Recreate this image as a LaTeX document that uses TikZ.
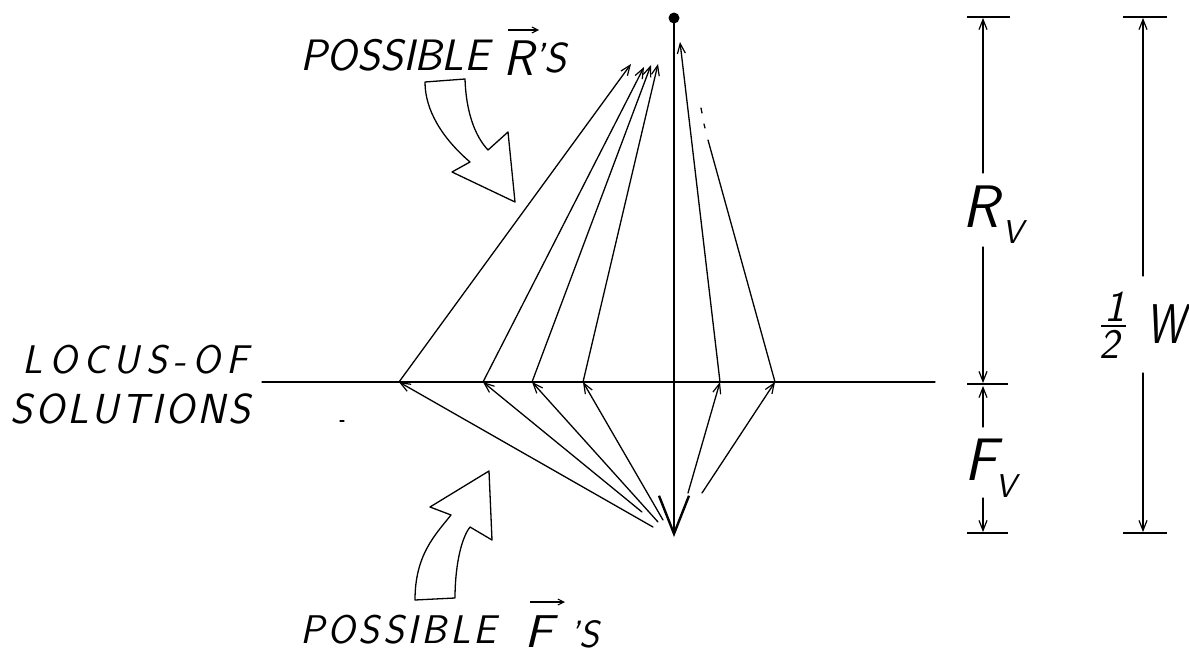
\documentclass[tikz,border=0pt]{standalone}
\usepackage{fontspec}
\usetikzlibrary{arrows.meta}
\tikzset{
  lbl/.style={font=\sffamily\itshape, inner sep=0pt, anchor=base west},
  ln/.style={line width=1.3pt, line cap=round},
  barb/.style={-{Straight Barb[length=10pt,width=8pt,line width=1.2pt]}},
  blockarrow/.style={draw, line width=1.3pt, fill=white, line join=round},
  tick/.style={line width=1.4pt},
}
\newcommand{\fs}[1]{\fontsize{#1}{#1}\selectfont}
\begin{document}
\begin{tikzpicture}[x=1pt,y=-1pt]
\useasboundingbox (0,0) rectangle (1189,656);
% key points
\coordinate (T) at (674,18);
\coordinate (B) at (674,537);
\coordinate (HL) at (262,382);
\coordinate (HR) at (935,382);
\coordinate (h1) at (399,382);
\coordinate (h2) at (483,382);
\coordinate (h3) at (532,382);
\coordinate (h4) at (583,382);
\coordinate (h5) at (720,382);
\coordinate (h6) at (775,382);
\coordinate (r1) at (631,64);
\coordinate (r2) at (644,67);
\coordinate (r3) at (651,65);
\coordinate (r4) at (658,64);
\coordinate (r5) at (680,42);
\coordinate (r6) at (708,140);
\coordinate (f1) at (653,527);
\coordinate (f2) at (642,512);
\coordinate (f3) at (658,522);
\coordinate (f4) at (663,520);
\coordinate (f5) at (688,493);
\coordinate (f6) at (702,493);
% locus line
\draw[ln] (HL) -- (HR);
% main vertical vector
\draw[line width=2.8pt, -{Straight Barb[length=38pt,width=30pt,line width=2.4pt]}] (T) -- (B);
\node[circle, fill, inner sep=0pt, minimum size=11pt] (dot) at (T) {};
% possible R's
\draw[ln, barb] (h1) -- (r1);
\draw[ln, barb] (h2) -- (r2);
\draw[ln, barb] (h3) -- (r3);
\draw[ln, barb] (h4) -- (r4);
\draw[ln, barb] (h5) -- (r5);
\draw[ln] (h6) -- (r6);
\draw[ln] (705,128) -- (704,124);
\draw[ln] (702,113) -- (701,108);
% possible F's
\draw[ln, barb] (f1) -- (h1);
\draw[ln, barb] (f2) -- (h2);
\draw[ln, barb] (f3) -- (h3);
\draw[ln, barb] (f4) -- (h4);
\draw[ln, barb] (f5) -- (h5);
\draw[ln, barb] (f6) -- (h6);
% block arrows
\draw[blockarrow] (425,82) -- (465,79) .. controls (466,110) and (474,135) .. (488,150)
  -- (508,132) -- (515,202) -- (452,172) -- (470,162)
  .. controls (442,138) and (425,110) .. cycle;
\draw[blockarrow] (415,600) -- (455,598) .. controls (455,570) and (460,540) .. (470,527)
  -- (492,540) -- (489,471) -- (430,507) -- (451,515)
  .. controls (435,535) and (415,555) .. cycle;
% dimension lines
\coordinate (rvTop) at (983,18);
\coordinate (rvMid) at (983,383);
\coordinate (rvBot) at (983,532);
\coordinate (wTop) at (1143,18);
\coordinate (wBot) at (1143,532);
\draw[tick] (967,17) -- (1010,17);
\draw[tick] (967,384) -- (1008,384);
\draw[tick] (967,533) -- (1008,533);
\draw[tick] (1123,17) -- (1167,17);
\draw[tick] (1123,533) -- (1167,533);
\draw[ln, barb] (983,173) -- (rvTop);
\draw[ln, barb] (983,247) -- (rvMid);
\draw[ln, barb] (983,427) -- (983,386);
\draw[ln, barb] (983,498) -- (rvBot);
\draw[ln, barb] (1143,276) -- (wTop);
\draw[ln, barb] (1143,373) -- (wBot);
% labels
\node[lbl, font=\sffamily\itshape\fs{60}] (Rv) at (962,227) {R};
\node[lbl, font=\sffamily\itshape\fs{33}] (Rvs) at (1002,243) {V};
\node[lbl, font=\sffamily\itshape\fs{60}] (Fv) at (964,480) {F};
\node[lbl, font=\sffamily\itshape\fs{33}] (Fvs) at (995,497) {V};
\node[lbl, font=\sffamily\itshape\fs{44}] (one) at (1104,321) {1};
\draw[line width=1.4pt] (1101,326) -- (1126,326);
\node[lbl, font=\sffamily\itshape\fs{42}] (two) at (1099,358) {2};
\node[lbl, font=\sffamily\itshape\fs{56}, xscale=0.78] (W) at (1146,343) {W};
\node[lbl, font=\sffamily\itshape\fs{40}] (locus) at (22,373)
  {L\kern6.5pt O\kern6.5pt C\kern6.5pt U\kern6.5pt S\kern6.5pt -\kern6.5pt O\kern6.5pt F};
\node[lbl, font=\sffamily\itshape\fs{42}] (sol) at (10,423)
  {S\kern3pt O\kern3pt L\kern3pt U\kern3pt T\kern3pt I\kern3pt O\kern3pt N\kern3pt S};
\draw[ln] (340,421) -- (344,421);
% possible R's label
\node[lbl, font=\sffamily\itshape\fs{44}] (posR) at (300,70) {POSSIBLE};
\node[lbl, font=\sffamily\itshape\fs{50}] (Rlet) at (503,75) {R};
\node[lbl, font=\sffamily\itshape\fs{42}] (Rs) at (533,72) {'S};
\draw[line width=1.3pt, -{Straight Barb[length=6pt,width=6pt,line width=1.1pt]}] (508,30) -- (539,30);
% possible F's label
\node[lbl, font=\sffamily\itshape\fs{40}] (posF) at (300,643)
  {P\kern3.5pt O\kern3.5pt S\kern3.5pt S\kern3.5pt I\kern3.5pt B\kern3.5pt L\kern3.5pt E};
\node[lbl, font=\sffamily\itshape\fs{46}, xscale=1.15] (Flet) at (524,647) {F};
\node[lbl, font=\sffamily\itshape\fs{38}] (Fs) at (569,647) {'S};
\draw[line width=1.3pt, -{Straight Barb[length=6pt,width=6pt,line width=1.1pt]}] (530,602) -- (565,602);
\end{tikzpicture}
\end{document}
